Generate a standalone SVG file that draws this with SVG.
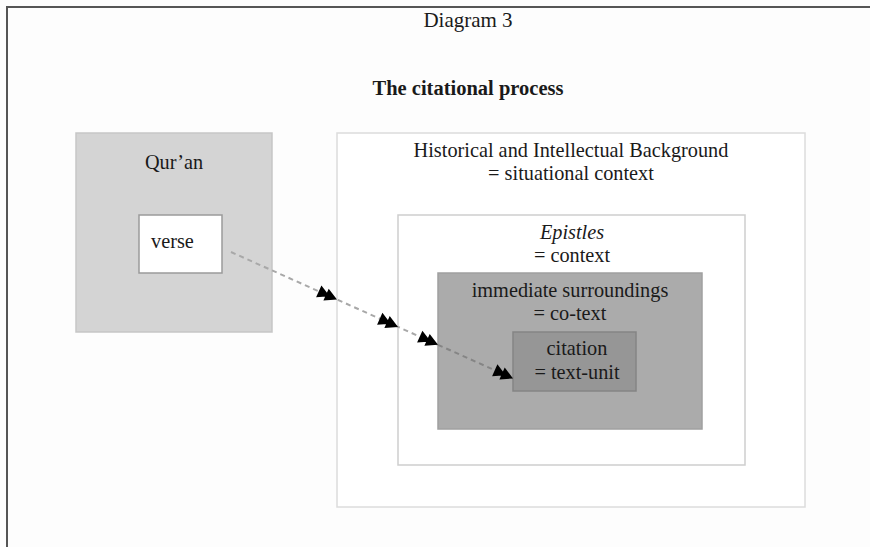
<svg xmlns="http://www.w3.org/2000/svg" width="870" height="547" viewBox="0 0 870 547">
<style>
text{font-family:"Liberation Serif","Times New Roman",serif;fill:#1a1a1a;font-size:20.3px;text-anchor:middle}
.frame{stroke:#555;stroke-width:2;fill:none}
.conn{stroke:#a8a8a8;stroke-width:2;stroke-dasharray:5 4;fill:none}
.conn2{stroke:#858585;stroke-width:2;stroke-dasharray:5 4;fill:none}
</style>
<defs>
<marker id="dbl" markerUnits="userSpaceOnUse" viewBox="-22 -8 24 16" markerWidth="24" markerHeight="16" refX="0" refY="0" orient="auto">
<path d="M0,0 L-12,-6.5 L-12,6.5 Z M-8,0 L-20,-6.5 L-20,6.5 Z" fill="#000"/>
</marker>
</defs>
<rect x="0" y="0" width="870" height="547" fill="#fdfdfd"/>
<path class="frame" d="M7,547 L7,7 L870,7"/>
<text x="468" y="27" style="font-size:21px">Diagram 3</text>
<text x="468" y="95" style="font-weight:bold;font-size:20.5px">The citational process</text>
<g id="quran">
<rect x="76" y="133" width="196" height="199" fill="#d4d4d4" stroke="#c6c6c6" stroke-width="1.5"/>
<text x="174" y="169">Qur’an</text>
</g>
<g id="verse">
<rect x="139" y="215" width="83" height="58" fill="#fff" stroke="#9a9a9a" stroke-width="1.5"/>
<text x="151" y="248" style="text-anchor:start">verse</text>
</g>
<g id="background">
<rect x="337" y="133" width="468" height="374" fill="#fff" stroke="#dcdcdc" stroke-width="1.5"/>
<text x="571" y="157">Historical and Intellectual Background</text>
<text x="571" y="180">= situational context</text>
</g>
<g id="epistles">
<rect x="398" y="215" width="347" height="250" fill="#fff" stroke="#cecece" stroke-width="1.5"/>
<text x="572" y="239" style="font-style:italic">Epistles</text>
<text x="572" y="262">= context</text>
</g>
<g id="surroundings">
<rect x="438" y="273" width="264" height="156" fill="#ababab" stroke="#a0a0a0" stroke-width="1.5"/>
<text x="570" y="297">immediate surroundings</text>
<text x="570" y="320">= co-text</text>
</g>
<g id="citation">
<rect x="513" y="332" width="123" height="59" fill="#969696" stroke="#858585" stroke-width="1.5"/>
<text x="577" y="355">citation</text>
<text x="577" y="379">= text-unit</text>
</g>
<g id="connectors">
<path class="conn" d="M231,252 L337,299.5 L398,326.9 L438,344.8" marker-mid="url(#dbl)" marker-end="url(#dbl)"/>
<path class="conn2" d="M438,344.8 L513,378.4" marker-end="url(#dbl)"/>
</g>
</svg>
